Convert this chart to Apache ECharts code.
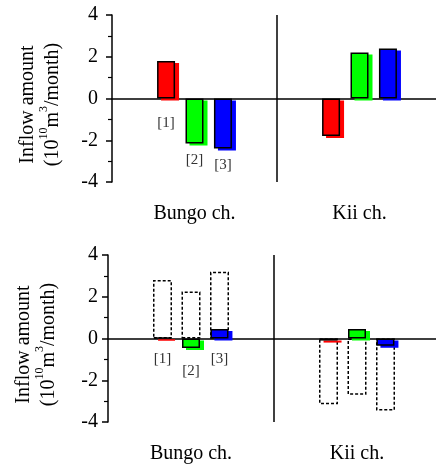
<!DOCTYPE html>
<html><head><meta charset="utf-8">
<script src="https://cdn.jsdelivr.net/npm/echarts@6/dist/echarts.min.js"></script>
<style>html,body{margin:0;padding:0;background:#fff}#c{width:436px;height:466px}</style>
</head><body><div id="c"></div>
<script>
// Data
const categories = ['Bungo ch.', 'Kii ch.'];
const barTags = ['[1]', '[2]', '[3]'];
const topRed   = [1.8, -1.8];
const topGreen = [-2.15, 2.2];
const topBlue  = [-2.4, 2.4];
const botRed   = [0.05, -0.1];
const botGreen = [-0.45, 0.45];
const botBlue  = [0.45, -0.35];
const botRedDashed   = [2.8, -3.15];
const botGreenDashed = [2.25, -2.7];
const botBlueDashed  = [3.2, -3.45];
const dividerSlots = ['', '', ''];

const FONT = '"Liberation Serif", "Times New Roman", serif';
const colors = ['#ff0000', '#00ff00', '#0000ff'];

function yAxisCfg(gridIndex, labelMargin) {
  return {
    type: 'value', gridIndex: gridIndex, min: -4, max: 4, interval: 2,
    name: '{a|Inflow amount}\n{a|(10}{s|10}{a|m}{s|3}{a|/month)}',
    nameLocation: 'middle', nameRotate: 90, nameGap: 49,
    nameTextStyle: {
      fontFamily: FONT, color: '#000', padding: [0, 12, 0, 0],
      rich: {
        a: { fontFamily: FONT, fontSize: 20, color: '#000', lineHeight: 25, verticalAlign: 'bottom' },
        s: { fontFamily: FONT, fontSize: 12, color: '#000', lineHeight: 25, verticalAlign: 'top' }
      }
    },
    axisLine: { show: true, onZero: false, lineStyle: { color: '#000', width: 1.5 } },
    axisTick: { show: true, inside: false, length: 6, lineStyle: { color: '#000', width: 1.5 } },
    minorTick: { show: true, splitNumber: 2, length: 4, lineStyle: { color: '#000', width: 1.2 } },
    splitLine: { show: false },
    axisLabel: { fontFamily: FONT, fontSize: 20, color: '#000', margin: labelMargin }
  };
}
function xLabelAxis(gridIndex) {
  return {
    type: 'category', gridIndex: gridIndex, data: categories, position: 'bottom',
    axisLine: { show: false, onZero: false }, axisTick: { show: false },
    axisLabel: { fontFamily: FONT, fontSize: 20, color: '#000', margin: 22 },
    splitLine: { show: false }
  };
}
function xZeroAxis(gridIndex) {
  return {
    type: 'category', gridIndex: gridIndex, data: categories,
    axisLine: { show: true, onZero: true, lineStyle: { color: '#000', width: 1.5 } },
    axisTick: { show: false }, axisLabel: { show: false }, splitLine: { show: false }
  };
}
function xDividerAxis(gridIndex) {
  return {
    type: 'category', gridIndex: gridIndex, data: dividerSlots, boundaryGap: false, position: 'top',
    axisLine: { show: false }, axisTick: { show: false }, axisLabel: { show: false },
    splitLine: { show: true, interval: function (i) { return i === 1; }, lineStyle: { color: '#000', width: 1.5 } }
  };
}

function solidSeries(vals, k, xi, yi, labelDist) {
  return {
    type: 'bar', xAxisIndex: xi, yAxisIndex: yi, barWidth: 18, barGap: '58%', z: 3,
    itemStyle: { color: colors[k], borderColor: '#000', borderWidth: 1.5,
      shadowColor: colors[k], shadowBlur: 0, shadowOffsetX: 4, shadowOffsetY: 2 },
    data: vals.map(function (v, i) {
      if (i !== 0) return v;
      return { value: v, label: { show: true, position: 'bottom', distance: labelDist,
        formatter: barTags[k], fontFamily: FONT, fontSize: 15, color: '#333' } };
    }),
    animation: false, silent: true
  };
}
function dashedSeries(vals, xi, yi) {
  return {
    type: 'bar', xAxisIndex: xi, yAxisIndex: yi, barWidth: 19, barGap: '50%', z: 2,
    itemStyle: { color: 'rgba(0,0,0,0)', borderColor: '#000', borderWidth: 1.5, borderType: [3, 2] },
    data: vals, animation: false, silent: true
  };
}

const option = {
  backgroundColor: '#fff',
  animation: false,
  grid: [
    { left: 112, width: 330, top: 15, height: 167, outerBoundsMode: 'none', containLabel: false },
    { left: 108, width: 332, top: 255, height: 167, outerBoundsMode: 'none', containLabel: false }
  ],
  xAxis: [xLabelAxis(0), xZeroAxis(0), xDividerAxis(0), xLabelAxis(1), xZeroAxis(1), xDividerAxis(1)],
  yAxis: [yAxisCfg(0, 14), yAxisCfg(1, 10)],
  series: [
    solidSeries(topRed, 0, 0, 0, 17),
    solidSeries(topGreen, 1, 0, 0, 9),
    solidSeries(topBlue, 2, 0, 0, 9),
    dashedSeries(botRedDashed, 4, 1),
    dashedSeries(botGreenDashed, 4, 1),
    dashedSeries(botBlueDashed, 4, 1),
    solidSeries(botRed, 0, 3, 1, 13),
    solidSeries(botGreen, 1, 3, 1, 16),
    solidSeries(botBlue, 2, 3, 1, 13)
  ]
};
const chart = echarts.init(document.getElementById('c'), null, { renderer: 'canvas' });
chart.setOption(option);
</script></body></html>
